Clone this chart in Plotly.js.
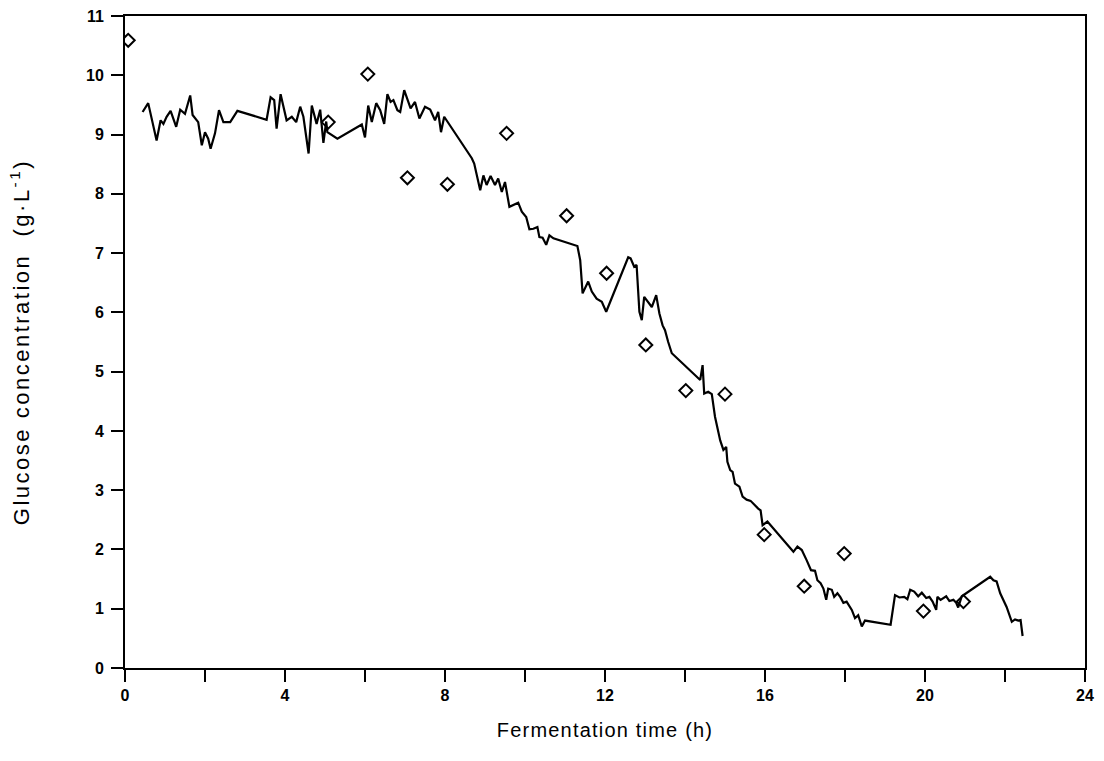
<!DOCTYPE html>
<html>
<head>
<meta charset="utf-8">
<script src="https://cdn.plot.ly/plotly-3.0.1.min.js"></script>
<style>
  html, body { margin: 0; padding: 0; background: #fff; }
  #chart { width: 1104px; height: 761px; }
  #chart text.ytitle { letter-spacing: 2.5px; }
  #chart text.xtitle { letter-spacing: 1.2px; }
</style>
</head>
<body>
<div id="chart"></div>
<script>
// Online (continuous) glucose estimate: time (h) and concentration (g/L)
const lineTime = [
  0.44, 0.58, 0.79, 0.89, 0.96, 1.04, 1.14, 1.28, 1.38, 1.50, 1.63, 1.69, 1.83, 1.92, 2.00, 2.08, 2.14, 2.25, 2.35, 2.46, 2.63, 2.81,
  3.54, 3.64, 3.73, 3.79, 3.89, 3.96, 4.04, 4.17, 4.28, 4.38, 4.46, 4.59, 4.67, 4.79, 4.88, 4.96, 5.03, 5.06, 5.17, 5.31,
  5.92, 6.00, 6.08, 6.17, 6.28, 6.38, 6.48, 6.56, 6.64, 6.71, 6.81, 6.88, 6.98, 7.06, 7.14, 7.25, 7.36, 7.50, 7.63, 7.75, 7.83, 7.90, 7.98,
  8.67, 8.73, 8.88, 8.96, 9.04, 9.14, 9.25, 9.33, 9.42, 9.50, 9.61, 9.69, 9.83, 9.92, 10.03, 10.11, 10.21, 10.31, 10.36, 10.44, 10.53, 10.61, 10.71,
  11.31, 11.38, 11.44, 11.58, 11.67, 11.79, 11.92, 12.03, 12.58, 12.64, 12.73, 12.79, 12.86, 12.92, 12.98, 13.04, 13.17, 13.28, 13.36, 13.44, 13.50, 13.58, 13.67,
  14.38, 14.44, 14.48, 14.58, 14.67, 14.75, 14.88, 14.96, 15.03, 15.06, 15.13, 15.19, 15.25, 15.36, 15.44, 15.54, 15.64, 15.73, 15.83, 15.89, 15.94, 16.06,
  16.71, 16.81, 16.92, 17.04, 17.15, 17.25, 17.31, 17.39, 17.46, 17.53, 17.58, 17.67, 17.73, 17.81, 17.88, 17.96, 18.04, 18.17, 18.25, 18.33, 18.42, 18.50,
  19.14, 19.25, 19.36, 19.48, 19.56, 19.63, 19.73, 19.83, 19.92, 20.03, 20.11, 20.19, 20.28, 20.31, 20.39, 20.53, 20.61, 20.71, 20.78, 20.83, 20.92,
  21.63, 21.71, 21.79, 21.88, 22.04, 22.17, 22.25, 22.33, 22.39, 22.44
];
const lineGlucose = [
  9.38, 9.53, 8.90, 9.24, 9.18, 9.30, 9.40, 9.13, 9.42, 9.35, 9.66, 9.33, 9.21, 8.82, 9.04, 8.93, 8.76, 9.02, 9.41, 9.21, 9.21, 9.40,
  9.25, 9.63, 9.58, 9.10, 9.68, 9.47, 9.24, 9.30, 9.21, 9.47, 9.30, 8.68, 9.49, 9.18, 9.42, 8.86, 9.22, 9.04, 8.99, 8.93,
  9.17, 8.95, 9.49, 9.21, 9.53, 9.41, 9.18, 9.68, 9.55, 9.58, 9.41, 9.38, 9.75, 9.58, 9.44, 9.55, 9.27, 9.47, 9.42, 9.24, 9.38, 9.04, 9.30,
  8.60, 8.51, 8.06, 8.31, 8.15, 8.30, 8.15, 8.26, 8.03, 8.20, 7.78, 7.81, 7.85, 7.70, 7.61, 7.40, 7.41, 7.44, 7.27, 7.26, 7.14, 7.30, 7.25,
  7.12, 6.88, 6.32, 6.52, 6.35, 6.23, 6.18, 6.01, 6.93, 6.91, 6.77, 6.80, 6.01, 5.87, 6.26, 6.20, 6.09, 6.29, 5.98, 5.78, 5.70, 5.50, 5.31,
  4.86, 5.11, 4.63, 4.66, 4.62, 4.24, 3.84, 3.68, 3.73, 3.48, 3.34, 3.31, 3.11, 3.06, 2.89, 2.84, 2.82, 2.75, 2.69, 2.66, 2.41, 2.47,
  1.96, 2.05, 1.99, 1.82, 1.65, 1.64, 1.48, 1.43, 1.34, 1.15, 1.34, 1.32, 1.20, 1.26, 1.20, 1.10, 1.12, 0.98, 0.84, 0.89, 0.70, 0.80,
  0.73, 1.23, 1.19, 1.20, 1.16, 1.32, 1.29, 1.21, 1.27, 1.18, 1.20, 1.12, 0.98, 1.20, 1.15, 1.21, 1.13, 1.15, 1.10, 1.02, 1.21,
  1.54, 1.48, 1.46, 1.26, 1.03, 0.78, 0.82, 0.80, 0.81, 0.54
];

// Off-line sample measurements
const sampleTime = [0.08, 5.08, 6.07, 7.06, 8.06, 9.54, 11.04, 12.04, 13.02, 14.02, 15.0, 15.98, 16.98, 17.98, 19.96, 20.96];
const sampleGlucose = [10.59, 9.21, 10.02, 8.27, 8.16, 9.02, 7.63, 6.66, 5.45, 4.68, 4.62, 2.25, 1.38, 1.93, 0.96, 1.12];

// Axis ticks
const xTickVals = [0, 4, 8, 12, 16, 20, 24];
const xTickText = ['0', '4', '8', '12', '16', '20', '24'];
const yTickVals = [0, 1, 2, 3, 4, 5, 6, 7, 8, 9, 10, 11];

const FONT = 'Liberation Sans, Arial, Helvetica, sans-serif';

const traces = [
  {
    x: lineTime, y: lineGlucose,
    type: 'scatter', mode: 'lines',
    line: { color: '#000', width: 2.2 },
    hoverinfo: 'skip', showlegend: false
  },
  {
    x: sampleTime, y: sampleGlucose,
    type: 'scatter', mode: 'markers',
    marker: { symbol: 'diamond-open', size: 10, color: '#000', line: { color: '#000', width: 2 } },
    showlegend: false
  }
];

const layout = {
  width: 1104, height: 761,
  margin: { l: 125, r: 19, t: 16, b: 93 },
  paper_bgcolor: '#fff', plot_bgcolor: '#fff',
  font: { family: FONT, size: 16, color: '#000' },
  xaxis: {
    range: [0, 24],
    tickvals: xTickVals, ticktext: xTickText,
    ticks: 'outside', ticklen: 12, tickwidth: 2, tickcolor: '#000',
    minor: { dtick: 2, tick0: 0, ticks: 'outside', ticklen: 12, tickwidth: 2, tickcolor: '#000', showgrid: false },
    showline: true, linecolor: '#000', linewidth: 2, mirror: true,
    showgrid: false, zeroline: false,
    tickfont: { family: FONT, size: 16, color: '#000', weight: 'bold' },
    title: { text: 'Fermentation time (h)', font: { family: FONT, size: 20, color: '#000' }, standoff: 20 }
  },
  yaxis: {
    range: [0, 11],
    tickvals: yTickVals,
    ticks: 'outside', ticklen: 12, tickwidth: 2, tickcolor: '#000',
    showline: true, linecolor: '#000', linewidth: 2, mirror: true,
    showgrid: false, zeroline: false,
    ticklabelstandoff: 4,
    tickfont: { family: FONT, size: 16, color: '#000', weight: 'bold' },
    title: { text: 'Glucose concentration  (g·L<sup>-1</sup>)', font: { family: FONT, size: 22, color: '#000' }, standoff: 50 }
  }
};

Plotly.newPlot('chart', traces, layout, { displayModeBar: false, staticPlot: true });
</script>
</body>
</html>
